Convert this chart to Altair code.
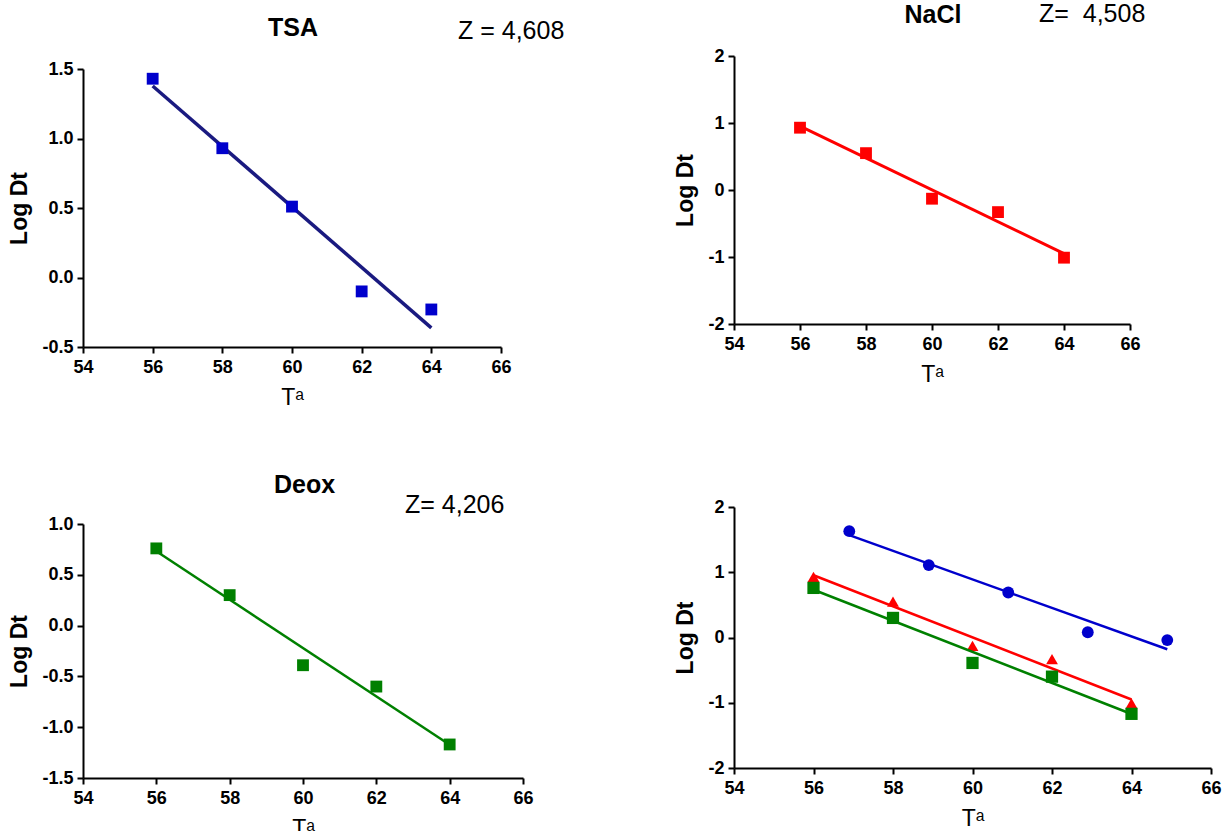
import altair as alt
import pandas as pd

# ---------------- data ----------------
temps = [56, 58, 60, 62, 64]
tsa_log = [1.43, 0.93, 0.51, -0.10, -0.23]
nacl_log = [0.93, 0.55, -0.13, -0.33, -1.01]
deox_log = [0.76, 0.30, -0.39, -0.60, -1.17]
comb_tsa_temps = [56.9, 58.9, 60.9, 62.9, 64.9]
comb_tsa_log = [1.63, 1.11, 0.69, 0.08, -0.04]

x_ticks = [54, 56, 58, 60, 62, 64, 66]
tsa_y_ticks = [-0.5, 0.0, 0.5, 1.0, 1.5]
nacl_y_ticks = [-2, -1, 0, 1, 2]
deox_y_ticks = [-1.5, -1.0, -0.5, 0.0, 0.5, 1.0]
comb_y_ticks = [-2, -1, 0, 1, 2]

titles = ["TSA", "NaCl", "Deox"]
z_labels = ["Z = 4,608", "Z=\u00a0 4,508", "Z= 4,206"]

x_title = "T\u1d43"
y_title = "Log Dt"

FONT = "Liberation Sans"


def label_expr(fmt):
    return "(datum.value < 0 ? '-' : '') + format(abs(datum.value), '%s')" % fmt


def panel(series, y_domain, y_ticks, y_fmt, width, height, texts,
          x_range=None, y_range=None):
    xs_kw = dict(domain=[54, 66], nice=False, zero=False)
    if x_range is not None:
        xs_kw["range"] = x_range
    ys_kw = dict(domain=y_domain, nice=False, zero=False)
    if y_range is not None:
        ys_kw["range"] = y_range
    x = alt.X("T:Q", scale=alt.Scale(**xs_kw),
              axis=alt.Axis(values=x_ticks, title=x_title, format="d"))
    y = alt.Y("LogDt:Q", scale=alt.Scale(**ys_kw),
              axis=alt.Axis(values=y_ticks, title=y_title,
                            labelExpr=label_expr(y_fmt)))
    layers = []
    for xs, ys, color, line_color, shape, line_w, size in series:
        df = pd.DataFrame({"T": xs, "LogDt": ys})
        base = alt.Chart(df)
        line = base.transform_regression("T", "LogDt").mark_line(
            color=line_color, strokeWidth=line_w).encode(x=x, y=y)
        pts = base.mark_point(shape=shape, filled=True, size=size,
                              color=color, opacity=1).encode(x=x, y=y)
        layers += [line, pts]
    for txt, xv, yv, fsize, weight, align in texts:
        t = alt.Chart(pd.DataFrame({"t": [txt]})).mark_text(
            font=FONT, fontSize=fsize, fontWeight=weight, align=align,
            baseline="alphabetic", color="black"
        ).encode(x=alt.value(xv), y=alt.value(yv), text="t:N")
        layers.append(t)
    return alt.layer(*layers).properties(width=width, height=height)


BLUE = "#0000CC"
NAVY = "#1A1A80"
RED = "#FF0000"
GREEN = "#008000"

tsa = panel(
    [(temps, tsa_log, BLUE, NAVY, "square", 3.5, 140)],
    [-0.5, 1.5], tsa_y_ticks, ".1f", 437, 291,
    [(titles[0], 210, -20.5, 25, "bold", "center"),
     (z_labels[0], 375, -17.5, 25, "normal", "left")],
    x_range=[0, 418], y_range=[291, 13])

nacl = panel(
    [(temps, nacl_log, RED, RED, "square", 3, 140)],
    [-2, 2], nacl_y_ticks, "d", 396, 268,
    [(titles[1], 199, -33, 25, "bold", "center"),
     (z_labels[1], 305, -33.8, 25, "normal", "left")])

deox = panel(
    [(temps, deox_log, GREEN, GREEN, "square", 2.5, 140)],
    [-1.5, 1.0], deox_y_ticks, ".1f", 451, 281,
    [(titles[2], 221.6, -4.3, 25, "bold", "center"),
     (z_labels[2], 322, 15.9, 25, "normal", "left")],
    x_range=[0, 440], y_range=[281, 27])

comb = panel(
    [(comb_tsa_temps, comb_tsa_log, BLUE, BLUE, "circle", 2.5, 140),
     (temps, nacl_log, RED, RED, "triangle-up", 2.5, 140),
     (temps, deox_log, GREEN, GREEN, "square", 2.5, 150)],
    [-2, 2], comb_y_ticks, "d", 477, 271, [],
    y_range=[271, 10])

chart = alt.concat(
    tsa, nacl, deox, comb, columns=2,
    spacing={"row": 150, "column": 200}, align="none", bounds="flush"
).properties(
    padding={"left": 8, "top": 2, "right": 0, "bottom": 0},
    background="white",
).configure_view(stroke=None).configure_axis(
    domainColor="black", domainWidth=2, tickColor="black", tickWidth=2,
    tickSize=6, labelFont=FONT, labelFontSize=18, labelFontWeight="bold",
    labelColor="black", labelPadding=4, titleFont=FONT, titleFontSize=23,
    titleColor="black", titlePadding=10, grid=False, labelFlush=False,
    labelOverlap=False
).configure_axisX(titleFontWeight="normal", labelPadding=5
).configure_axisY(titleFontWeight="bold")

chart.save("out.html", embed_options={"renderer": "svg", "actions": False})
